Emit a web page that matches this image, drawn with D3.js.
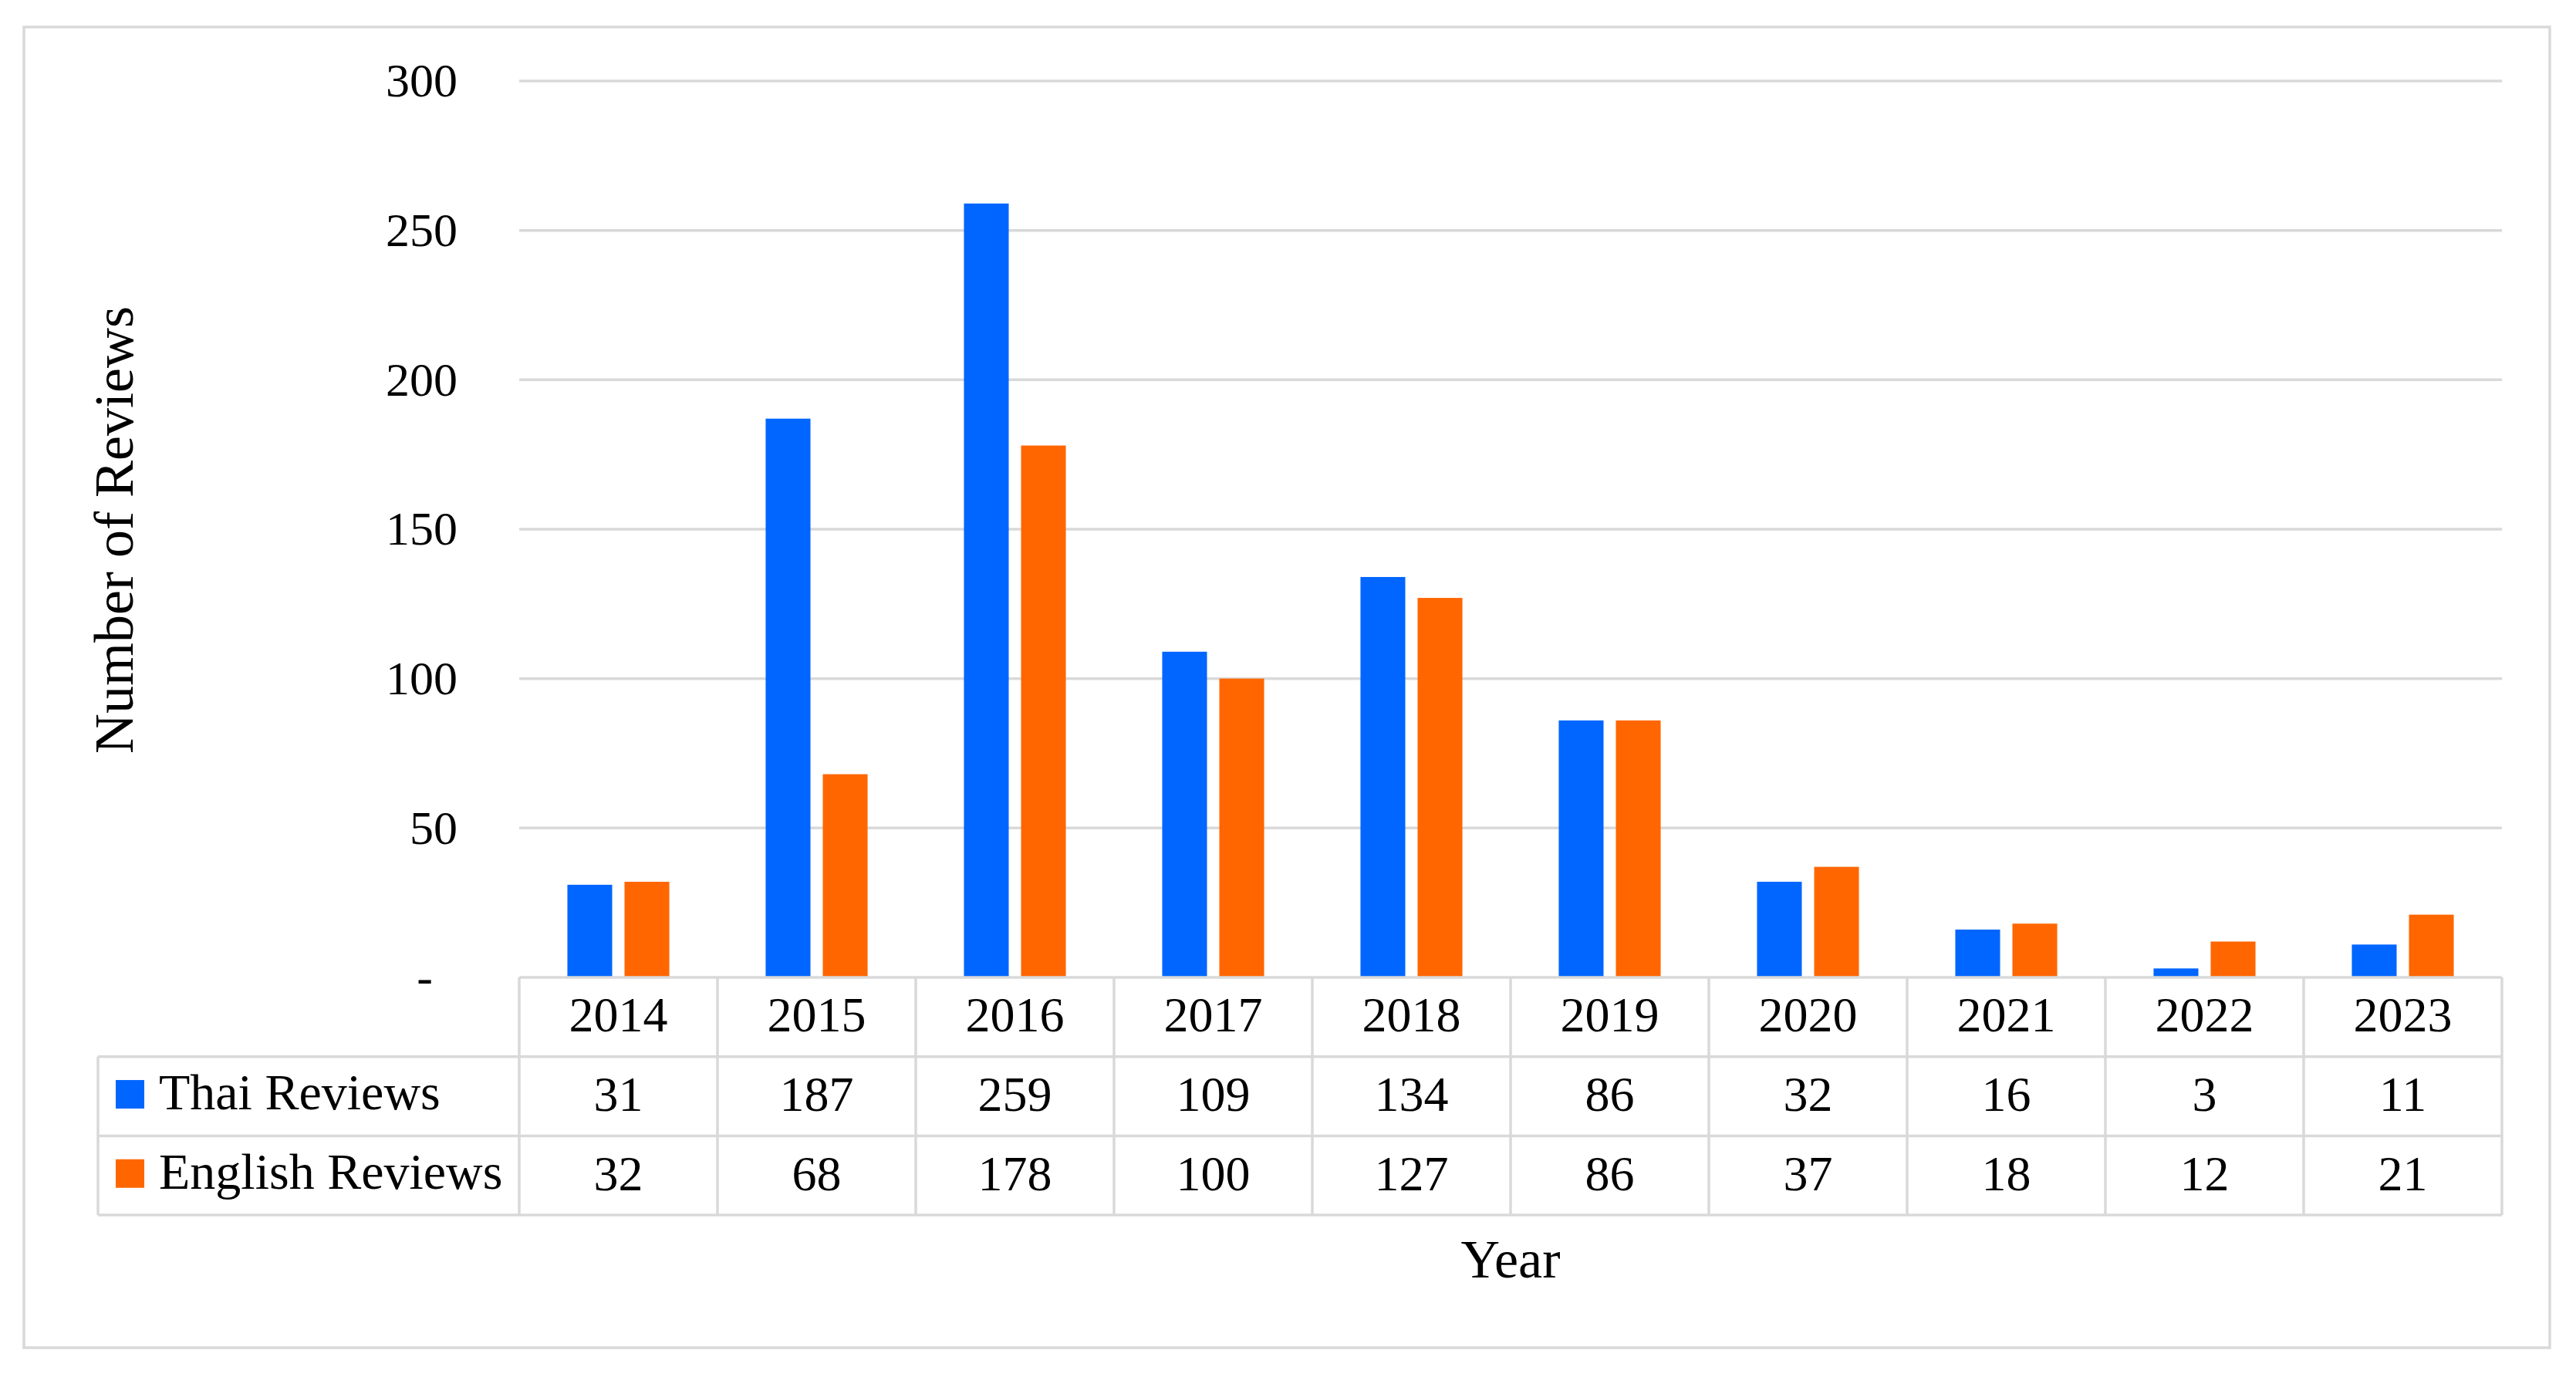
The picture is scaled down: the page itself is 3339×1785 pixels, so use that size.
<!DOCTYPE html>
<html>
<head>
<meta charset="utf-8">
<script src="https://cdn.jsdelivr.net/npm/d3@7"></script>
<style>
  body { margin: 0; background: #fff; }
  text { font-family: "Liberation Serif", "Times New Roman", serif; fill: #000; }
</style>
</head>
<body>
<script>
// data
let years = ['2014', '2015', '2016', '2017', '2018', '2019', '2020', '2021', '2022', '2023'];
let thaiReviews = [31, 187, 259, 109, 134, 86, 32, 16, 3, 11];
let englishReviews = [32, 68, 178, 100, 127, 86, 37, 18, 12, 21];
let seriesNames = ['Thai Reviews', 'English Reviews'];
let seriesColors = ['#0066ff', '#ff6600'];
let yTicks = [0, 50, 100, 150, 200, 250, 300];

let series = [thaiReviews, englishReviews];

let width = 3339, height = 1785;

let plot = { left: 673, right: 3243, top: 105, bottom: 1267 };
let rowH = 102.7;     // table row height
let legendLeft = 127;
let gridColor = '#d9d9d9';

let svg = d3.select('body')
  .append('svg')
  .attr('width', width)
  .attr('height', height)
  .style('background', '#fff');

// outer frame
svg.append('rect')
  .attr('x', 31)
  .attr('y', 35)
  .attr('width', 3274)
  .attr('height', 1712)
  .attr('fill', 'none')
  .attr('stroke', gridColor)
  .attr('stroke-width', 3.5);

// scales
let yScale = d3.scaleLinear()
  .domain([0, 300])
  .range([plot.bottom, plot.top]);

let xScale = d3.scaleBand()
  .domain(years)
  .range([plot.left, plot.right])
  .paddingInner(0.486)
  .paddingOuter(0.243);

let xInner = d3.scaleBand()
  .domain(seriesNames)
  .range([0, xScale.bandwidth()])
  .paddingInner(0.216);

// gridlines
svg.append('g')
  .selectAll('line')
  .data(yTicks.filter(d => d > 0))
  .enter()
  .append('line')
  .attr('x1', plot.left)
  .attr('x2', plot.right)
  .attr('y1', d => yScale(d))
  .attr('y2', d => yScale(d))
  .attr('stroke', gridColor)
  .attr('stroke-width', 3.5);

// y axis labels (zero shown as a dash)
let yAxis = svg.append('g')
  .attr('transform', `translate(593,0)`)
  .call(d3.axisLeft(yScale)
    .tickValues(yTicks)
    .tickSize(0)
    .tickPadding(0)
    .tickFormat(d => d === 0 ? '-' : d));
yAxis.select('.domain').remove();
yAxis.selectAll('text')
  .attr('font-family', '"Liberation Serif", serif')
  .attr('font-size', 62)
  .attr('fill', '#000')
  .attr('x', d => d === 0 ? -32 : 0);

// bars
let groups = svg.append('g')
  .selectAll('g')
  .data(years)
  .enter()
  .append('g')
  .attr('transform', d => `translate(${xScale(d)},0)`);

groups.selectAll('rect')
  .data((d, i) => series.map((s, k) => ({ name: seriesNames[k], value: s[i], color: seriesColors[k] })))
  .enter()
  .append('rect')
  .attr('x', d => xInner(d.name))
  .attr('y', d => yScale(d.value))
  .attr('width', xInner.bandwidth())
  .attr('height', d => plot.bottom - yScale(d.value))
  .attr('fill', d => d.color);

// data table
let table = svg.append('g');
let step = xScale.step();
let rowY = i => plot.bottom + i * rowH;

// horizontal lines
table.append('line')
  .attr('x1', plot.left).attr('x2', plot.right)
  .attr('y1', rowY(0)).attr('y2', rowY(0));
[1, 2, 3].forEach(i => {
  table.append('line')
    .attr('x1', legendLeft).attr('x2', plot.right)
    .attr('y1', rowY(i)).attr('y2', rowY(i));
});
// vertical lines
d3.range(years.length + 1).forEach(i => {
  table.append('line')
    .attr('x1', plot.left + i * step).attr('x2', plot.left + i * step)
    .attr('y1', rowY(0)).attr('y2', rowY(3));
});
table.append('line')
  .attr('x1', legendLeft).attr('x2', legendLeft)
  .attr('y1', rowY(1)).attr('y2', rowY(3));
table.selectAll('line')
  .attr('stroke', gridColor)
  .attr('stroke-width', 3.5);

// header row: years
table.selectAll('.year')
  .data(years)
  .enter()
  .append('text')
  .attr('class', 'year')
  .attr('x', d => xScale(d) + xScale.bandwidth() / 2)
  .attr('y', rowY(0) + rowH / 2 + 19)
  .attr('text-anchor', 'middle')
  .attr('font-size', 64)
  .text(d => d);

// value rows
series.forEach((s, k) => {
  let cy = rowY(k + 1) + rowH / 2;
  table.selectAll('.val' + k)
    .data(s)
    .enter()
    .append('text')
    .attr('class', 'val' + k)
    .attr('x', (d, i) => xScale(years[i]) + xScale.bandwidth() / 2)
    .attr('y', cy + 19)
    .attr('text-anchor', 'middle')
    .attr('font-size', 64)
    .text(d => d);

  table.append('rect')
    .attr('x', 150)
    .attr('y', cy - 21)
    .attr('width', 37)
    .attr('height', 37)
    .attr('fill', seriesColors[k]);

  table.append('text')
    .attr('x', 206)
    .attr('y', cy + 17)
    .attr('font-size', 66)
    .text(seriesNames[k]);
});

// axis titles
svg.append('text')
  .attr('x', (plot.left + plot.right) / 2)
  .attr('y', 1656)
  .attr('text-anchor', 'middle')
  .attr('font-size', 70)
  .text('Year');

svg.append('text')
  .attr('transform', 'translate(172,687) rotate(-90)')
  .attr('text-anchor', 'middle')
  .attr('font-size', 72)
  .text('Number of Reviews');
</script>
</body>
</html>
